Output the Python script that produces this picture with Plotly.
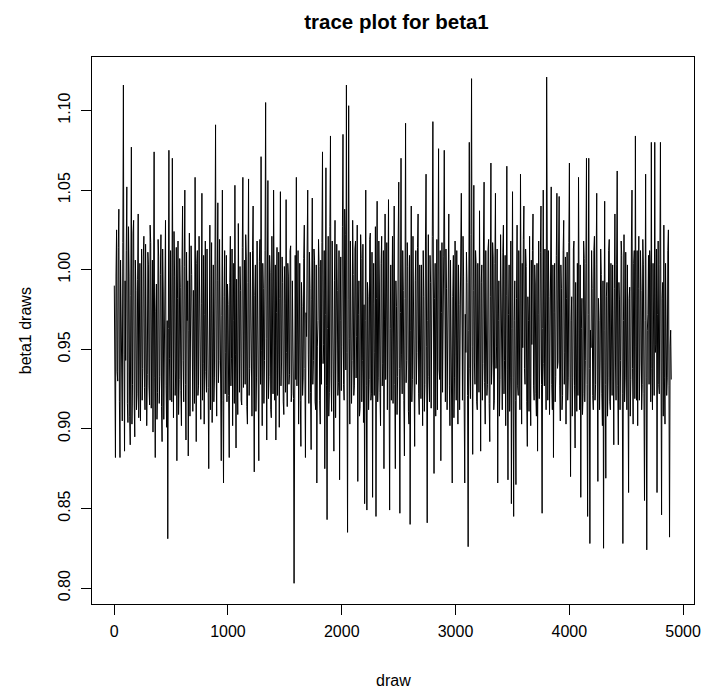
import plotly.graph_objects as go

# beta1 draws (one value per 5 draws)
beta1_values = [
    # draws 1-496
    0.99, 0.907, 0.882, 0.996, 1.025, 0.936, 0.93, 1.014, 1.038, 0.917, 0.882, 1.006, 0.97, 0.924, 0.905, 1.017, 1.116, 0.947, 0.886, 0.993,
    0.943, 1.012, 1.052, 0.916, 0.904, 1.027, 0.996, 0.908, 0.89, 0.984, 1.077, 0.903, 0.928, 1.023, 1.031, 0.915, 0.895, 1.006, 0.987, 0.912,
    0.922, 0.994, 1.035, 0.907, 0.948, 1.004, 0.905, 0.973, 1.013, 0.918, 0.938, 1.008, 1.021, 0.926, 0.912, 1.016, 0.977, 0.902, 0.934, 1.011,
    1.003, 0.927, 0.915, 1.028, 1.017, 0.913, 0.954, 1.006, 0.898, 0.962, 1.074, 0.932, 0.882, 0.974, 0.991, 0.906, 0.923, 1.019, 1.008, 0.916,
    0.933, 0.997, 1.022, 0.914, 0.892, 1.013, 0.986, 0.906, 0.951, 1.004, 1.031, 0.927, 0.901, 0.968, 0.831, 0.963, 1.075, 0.944, 0.918, 1.012,
    # draws 501-996
    0.972, 0.917, 1.07, 0.953, 0.907, 1.024, 0.996, 0.921, 0.937, 1.014, 0.88, 0.982, 1.018, 0.909, 0.931, 1.007, 0.989, 0.924, 0.902, 1.003,
    1.04, 0.943, 0.917, 1.002, 1.05, 0.928, 0.893, 1.011, 0.968, 0.993, 0.883, 0.962, 1.023, 0.908, 0.942, 1.015, 0.997, 0.919, 0.911, 0.987,
    0.963, 0.916, 1.058, 0.938, 0.892, 1.004, 1.012, 0.921, 0.927, 1.021, 0.988, 0.933, 0.906, 0.979, 1.048, 0.918, 0.941, 1.009, 0.903, 0.972,
    1.018, 0.936, 0.923, 1.013, 0.982, 0.926, 0.875, 0.994, 1.028, 0.912, 0.953, 1.017, 0.904, 0.958, 1.003, 0.917, 0.932, 1.006, 1.091, 0.942,
    0.908, 0.993, 1.042, 0.929, 0.943, 1.019, 0.986, 0.913, 0.88, 0.971, 1.05, 0.918, 0.866, 0.983, 1.012, 0.922, 0.948, 1.009, 0.917, 0.991,
    # draws 1001-1496
    0.978, 0.921, 0.882, 0.992, 1.021, 0.927, 0.944, 1.013, 0.902, 0.968, 1.004, 0.916, 1.053, 0.947, 0.888, 0.994, 0.963, 0.909, 1.029, 0.931,
    0.923, 1.002, 0.987, 0.918, 0.915, 1.014, 1.058, 0.926, 0.952, 1.006, 0.928, 1.022, 1.008, 0.914, 0.903, 0.992, 1.057, 0.921, 0.938, 1.011,
    0.971, 0.917, 0.908, 1.012, 1.04, 0.937, 0.873, 0.984, 1.003, 0.911, 0.932, 1.018, 0.962, 0.923, 0.88, 1.005, 1.019, 0.928, 1.071, 0.949,
    0.902, 1.004, 0.988, 0.916, 0.943, 1.012, 1.105, 0.957, 0.893, 0.991, 1.056, 0.919, 0.933, 1.009, 0.998, 0.912, 0.907, 1.021, 0.969, 0.922,
    1.05, 0.938, 0.918, 1.003, 0.893, 0.973, 1.014, 0.921, 0.947, 1.011, 0.901, 0.982, 1.049, 0.927, 0.942, 1.008, 0.992, 0.917, 0.909, 1.002,
    # draws 1501-1996
    0.979, 0.923, 1.044, 0.948, 0.914, 1.004, 0.996, 0.928, 0.934, 1.012, 1.015, 0.917, 0.922, 0.993, 0.961, 0.919, 0.803, 0.943, 1.009, 0.931,
    1.058, 0.927, 0.953, 1.012, 0.903, 0.983, 1.004, 0.918, 0.889, 0.992, 0.977, 0.921, 0.932, 1.007, 1.028, 0.938, 0.882, 0.973, 0.958, 1.013,
    1.05, 0.947, 0.916, 1.011, 0.988, 0.923, 0.887, 0.981, 1.045, 0.928, 0.943, 1.013, 1.006, 0.917, 0.912, 1.003, 0.866, 0.952, 0.968, 1.019,
    1.002, 0.918, 0.903, 1.006, 0.928, 1.017, 1.074, 0.941, 0.953, 1.012, 0.875, 0.972, 1.064, 0.927, 0.843, 0.963, 1.021, 0.908, 0.923, 1.027,
    1.084, 0.932, 0.911, 1.018, 0.984, 0.917, 0.886, 0.993, 1.031, 0.907, 0.942, 1.016, 0.987, 0.921, 0.929, 1.012, 0.868, 0.968, 1.008, 0.924,
    # draws 2001-2496
    0.952, 1.027, 1.085, 0.928, 0.918, 1.038, 1.022, 0.937, 1.116, 0.948, 0.835, 0.981, 1.103, 0.957, 0.903, 1.018, 0.972, 0.916, 0.943, 1.031,
    0.997, 0.921, 0.927, 1.013, 1.018, 0.932, 0.958, 1.028, 0.867, 0.972, 0.993, 0.908, 0.913, 1.022, 1.007, 0.917, 0.943, 1.016, 0.904, 0.978,
    0.853, 0.968, 1.05, 0.927, 0.849, 0.992, 0.983, 0.912, 0.931, 1.019, 1.023, 0.918, 0.922, 1.011, 0.857, 0.979, 1.004, 0.921, 0.948, 1.027,
    0.845, 0.982, 1.043, 0.917, 0.932, 1.018, 0.991, 0.923, 0.902, 1.004, 1.021, 0.927, 0.941, 1.012, 0.875, 0.969, 1.035, 0.931, 0.958, 1.017,
    0.912, 0.989, 1.044, 0.937, 0.849, 0.963, 1.003, 0.918, 0.952, 1.021, 0.916, 1.002, 1.04, 0.928, 0.875, 0.993, 0.977, 0.909, 0.933, 1.018,
    # draws 2501-2996
    1.055, 0.938, 0.847, 0.973, 1.07, 0.947, 0.922, 1.012, 0.987, 0.918, 0.883, 0.982, 1.092, 0.929, 0.943, 1.017, 1.002, 0.911, 0.903, 1.009,
    0.84, 0.962, 1.04, 0.917, 0.931, 1.021, 0.972, 0.908, 0.889, 0.993, 1.012, 0.928, 0.948, 1.014, 1.035, 0.922, 0.909, 1.003, 0.957, 0.919,
    1.003, 0.927, 0.902, 1.012, 0.983, 0.911, 0.928, 1.018, 1.06, 0.952, 0.841, 0.968, 1.022, 0.933, 0.917, 1.009, 0.992, 0.913, 0.947, 1.021,
    1.093, 0.948, 0.872, 0.982, 1.004, 0.908, 0.942, 1.019, 0.912, 0.988, 1.076, 0.937, 0.931, 1.012, 0.88, 0.973, 1.017, 0.923, 0.958, 1.008,
    1.075, 0.942, 0.917, 1.013, 0.988, 0.912, 0.953, 1.022, 1.035, 0.927, 0.902, 1.006, 0.968, 0.921, 0.866, 0.983, 1.009, 0.907, 0.932, 1.018,
    # draws 3001-3496
    0.962, 0.918, 1.012, 0.928, 0.903, 1.003, 0.978, 0.912, 0.943, 1.013, 1.048, 0.932, 0.918, 1.021, 0.996, 0.917, 0.866, 0.972, 0.948, 1.011,
    0.992, 0.921, 0.826, 0.962, 1.08, 0.938, 0.919, 1.022, 1.12, 0.952, 0.884, 0.987, 1.053, 0.942, 0.928, 1.012, 1.003, 0.917, 0.912, 1.004,
    0.968, 0.923, 1.037, 0.943, 0.886, 0.992, 1.003, 0.918, 0.941, 1.018, 1.055, 0.929, 0.903, 1.012, 0.982, 0.921, 0.928, 1.013, 1.019, 0.916,
    0.892, 0.983, 1.067, 0.928, 0.942, 1.017, 1.008, 0.912, 0.918, 1.004, 1.048, 0.938, 0.952, 1.013, 0.866, 0.968, 0.993, 0.908, 0.931, 1.022,
    0.978, 0.917, 0.912, 1.011, 1.028, 0.922, 0.943, 1.009, 0.902, 0.984, 1.065, 0.937, 0.868, 0.972, 1.003, 0.911, 0.932, 1.018, 0.853, 0.963,
    # draws 3501-3996
    1.049, 0.932, 0.845, 0.968, 0.993, 0.918, 0.865, 0.982, 1.028, 0.927, 0.921, 1.012, 0.958, 0.912, 1.06, 0.943, 0.903, 1.004, 0.951, 1.019,
    1.04, 0.938, 0.928, 1.013, 1.002, 0.917, 0.889, 0.983, 0.968, 0.911, 1.021, 0.932, 0.902, 1.006, 0.953, 1.012, 1.035, 0.927, 0.918, 1.003,
    0.991, 0.922, 0.908, 1.004, 0.886, 0.972, 1.018, 0.919, 0.942, 1.011, 1.04, 0.928, 0.847, 0.963, 1.05, 0.941, 0.927, 1.013, 0.968, 0.912,
    1.121, 0.948, 0.918, 1.012, 0.983, 0.909, 0.952, 1.021, 1.052, 0.928, 0.912, 1.003, 0.882, 0.973, 1.004, 0.917, 0.933, 1.009, 1.048, 0.938,
    0.942, 1.013, 1.046, 0.927, 0.905, 1.003, 0.988, 0.912, 0.921, 1.012, 1.031, 0.928, 0.948, 1.008, 0.903, 0.982, 1.011, 0.918, 0.932, 1.017,
    # draws 4001-4496
    1.067, 0.942, 0.87, 0.968, 0.983, 0.908, 0.932, 1.013, 1.018, 0.927, 0.888, 0.992, 0.962, 0.911, 1.004, 0.921, 1.058, 0.948, 0.912, 1.003,
    0.857, 0.963, 0.982, 0.909, 0.922, 1.018, 1.007, 0.917, 0.943, 1.004, 1.07, 0.928, 0.845, 0.972, 1.07, 0.938, 0.828, 0.962, 0.951, 1.012,
    0.988, 0.921, 0.912, 1.012, 1.021, 0.918, 0.928, 1.003, 1.048, 0.937, 0.867, 0.982, 0.968, 0.912, 0.942, 1.013, 0.997, 0.922, 0.902, 0.993,
    0.825, 0.962, 1.043, 0.928, 0.869, 0.983, 0.992, 0.908, 0.932, 1.012, 1.019, 0.917, 0.912, 1.004, 0.958, 0.921, 1.003, 0.932, 0.89, 0.988,
    1.035, 0.942, 0.918, 1.003, 1.062, 0.927, 0.89, 0.992, 0.981, 0.912, 0.943, 1.018, 1.009, 0.922, 0.828, 0.968, 1.022, 0.917, 0.932, 1.011,
    # draws 4501-4896
    0.962, 0.912, 1.003, 0.928, 0.86, 0.982, 0.989, 0.908, 0.931, 1.018, 1.05, 0.938, 0.903, 1.004, 1.012, 0.919, 1.084, 0.952, 0.918, 1.012,
    0.902, 0.988, 1.021, 0.918, 0.942, 1.012, 0.987, 0.912, 0.928, 1.019, 1.003, 0.922, 0.855, 0.968, 1.06, 0.932, 0.824, 0.962, 0.972, 1.009,
    0.928, 1.012, 1.003, 0.917, 1.08, 0.938, 0.912, 1.004, 0.968, 0.921, 1.08, 0.948, 0.953, 1.013, 0.86, 0.972, 1.018, 0.928, 0.922, 1.003,
    1.08, 0.942, 0.846, 0.982, 0.992, 0.908, 1.028, 0.932, 0.903, 1.004, 0.968, 0.921, 0.932, 1.012, 1.025, 0.927, 0.832, 0.952, 0.962, 0.931,
]
draw_step = 5
draws = [1 + draw_step * i for i in range(len(beta1_values))]

x_ticks = [0, 1000, 2000, 3000, 4000, 5000]
y_ticks = [0.80, 0.85, 0.90, 0.95, 1.00, 1.05, 1.10]
y_tick_text = ["0.80", "0.85", "0.90", "0.95", "1.00", "1.05", "1.10"]

FONT = "Liberation Sans, Arial, Helvetica, sans-serif"

fig = go.Figure()
fig.add_trace(go.Scatter(
    x=draws, y=beta1_values, mode="lines",
    line=dict(color="black", width=1),
    hoverinfo="skip", showlegend=False,
))

axis_common = dict(
    showline=True, mirror=True, linecolor="black", linewidth=1,
    ticks="outside", ticklen=10, tickcolor="black", tickwidth=1,
    showgrid=False, zeroline=False,
    tickfont=dict(family=FONT, size=16, color="black"),
)

fig.update_layout(
    width=712, height=691,
    margin=dict(l=92, r=11, t=57, b=87),
    paper_bgcolor="white", plot_bgcolor="white",
    font=dict(family=FONT, color="black"),
    xaxis=dict(range=[-195, 5096], tickvals=x_ticks, ticklabelstandoff=3, **axis_common),
    yaxis=dict(range=[0.790, 1.1336], tickvals=y_ticks, ticktext=y_tick_text,
               tickangle=-90, ticklabelstandoff=5, **axis_common),
    title=dict(text="<b>trace plot for beta1</b>", x=(92 + 701) / 2 / 712,
               xanchor="center", y=1 - 22 / 691, yanchor="middle",
               font=dict(family=FONT, size=20.5, color="black")),
    annotations=[
        dict(text="draw", xref="paper", yref="paper", x=0.5, y=(604 - 680) / 547,
             xanchor="center", yanchor="middle", showarrow=False,
             font=dict(family=FONT, size=16, color="black")),
        dict(text="beta1 draws", xref="paper", yref="paper", x=(25 - 92) / 609,
             y=0.5, xanchor="center", yanchor="middle", textangle=-90,
             showarrow=False, font=dict(family=FONT, size=16, color="black")),
    ],
)

fig.write_html("out.html")
